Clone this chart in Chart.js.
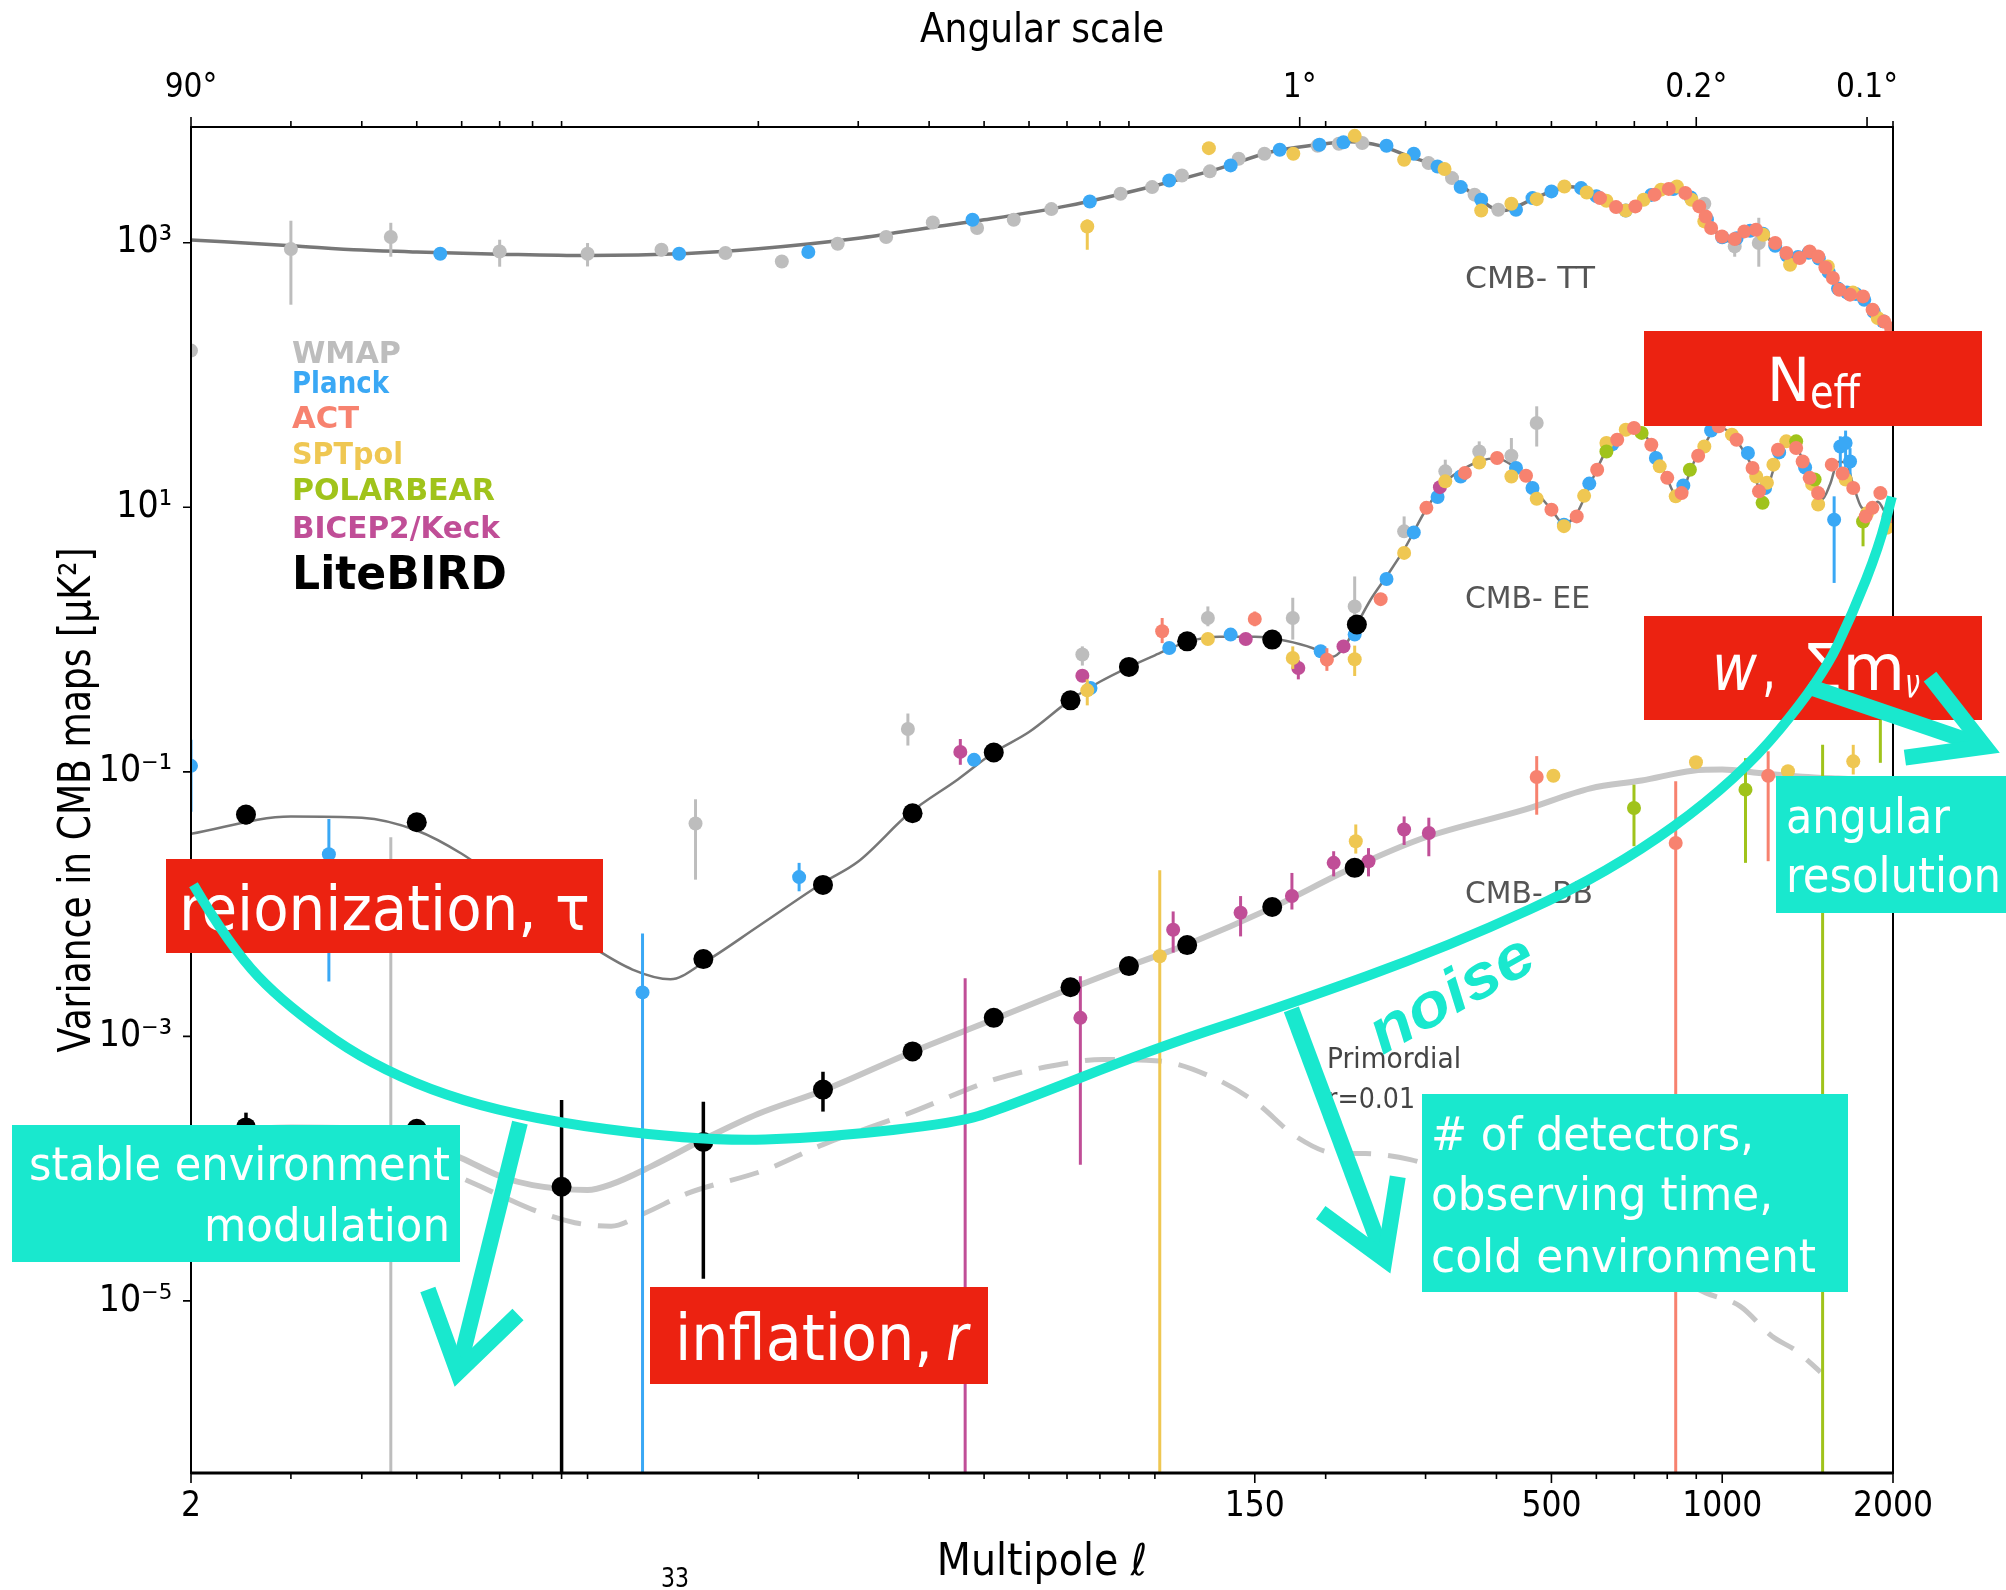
<!DOCTYPE html>
<html>
<head>
<meta charset="utf-8">
<script src="https://cdn.jsdelivr.net/npm/chart.js@4.4.1/dist/chart.umd.min.js"></script>
<style>
  html, body { margin: 0; padding: 0; background: #fff; }
  #wrap { width: 2006px; height: 1590px; }
</style>
</head>
<body>
<div id="wrap"><canvas id="cmb" width="2006" height="1590"></canvas></div>
<script>
const NARROW = '"Liberation Sans Narrow", "DejaVu Sans Condensed", "Arial Narrow", sans-serif';
const SANS = '"DejaVu Sans", "Liberation Sans", sans-serif';

// ---- axis ticks ----
const bottomTickVals = [2, 150, 500, 1000, 2000];
const topTickVals = [2, 180, 900, 1800];
const topTickLabels = ['90°', '1°', '0.2°', '0.1°'];
const yTickVals = [1e3, 1e1, 1e-1, 1e-3, 1e-5];
const yTickLabels = ['10³', '10¹', '10⁻¹', '10⁻³', '10⁻⁵'];

// ---- theory spectra (multipole l, D_l in uK^2) ----
const ttL = [2, 3, 4, 5, 7, 10, 15, 20, 30, 40, 50, 70, 100, 130, 160, 190, 220, 250, 280, 320, 360, 410, 460, 500, 540, 580, 630, 680, 740, 780, 820, 860, 920, 980, 1030, 1080, 1130, 1180, 1240, 1300, 1360, 1420, 1480, 1550, 1620, 1690, 1750, 1820, 1900, 2000];
const ttD = [1050, 950, 880, 850, 820, 800, 830, 900, 1080, 1300, 1490, 1900, 2700, 3650, 4850, 5450, 5800, 5400, 4500, 3650, 2400, 1750, 2100, 2450, 2650, 2450, 2000, 1750, 2100, 2450, 2600, 2400, 1800, 1180, 1030, 1100, 1250, 1150, 980, 820, 760, 850, 780, 560, 440, 410, 395, 330, 265, 215];

const eeL = [2, 3, 4, 5, 6, 7, 8, 10, 12, 14, 16, 20, 26, 30, 37, 45, 52, 60, 71, 80, 90, 100, 114, 130, 150, 170, 190, 205, 215, 227, 240, 256, 275, 300, 325, 350, 375, 400, 425, 450, 475, 500, 525, 550, 575, 600, 625, 650, 675, 700, 725, 750, 775, 800, 825, 850, 875, 900, 930, 960, 990, 1030, 1060, 1100, 1130, 1160, 1190, 1230, 1260, 1300, 1340, 1380, 1420, 1460, 1500, 1550, 1600, 1650, 1700, 1760, 1820, 1880, 1940, 2000];
const eeD = [0.034, 0.046, 0.045, 0.036, 0.024, 0.015, 0.0095, 0.005, 0.0032, 0.0027, 0.0036, 0.0068, 0.0145, 0.021, 0.049, 0.088, 0.14, 0.2, 0.35, 0.48, 0.62, 0.76, 0.96, 1.05, 1.05, 0.98, 0.86, 0.74, 0.86, 1.3, 2.0, 3.0, 4.8, 9.5, 15.5, 19.5, 22.5, 23.5, 21, 17, 12.5, 9.6, 7.6, 8.5, 12.5, 19, 27, 33, 38, 39.5, 36, 30, 22, 16.5, 12.8, 13, 18, 24, 29.5, 37, 40, 37, 32, 25, 20, 14, 13, 19, 26, 30, 29.5, 24, 17.5, 13, 11.5, 15, 22, 22, 15, 10, 9.5, 11, 9, 7.5];

const bbL = [2, 3, 4, 5, 6, 7, 8, 10, 11, 13, 16, 20, 26, 37, 51, 71, 90, 114, 161, 223, 300, 450, 586, 721, 887, 1000, 1161, 1386, 1600, 1800, 2000];
const bbD = [1.9e-4, 2.05e-4, 2.0e-4, 1.65e-4, 1.2e-4, 8.8e-5, 7.5e-5, 6.9e-5, 7.6e-5, 1.05e-4, 1.66e-4, 2.6e-4, 3.9e-4, 7.5e-4, 1.3e-3, 2.3e-3, 3.4e-3, 4.95e-3, 9.4e-3, 1.88e-2, 3.2e-2, 5.2e-2, 7.5e-2, 8.6e-2, 1.02e-1, 1.04e-1, 9.8e-2, 9.2e-2, 8.9e-2, 8.7e-2, 8.5e-2];

const primL = [2, 3, 4, 5, 6, 7, 8, 9.5, 11, 12.6, 15, 20.6, 26, 37, 52, 66, 81, 102, 129, 151, 177, 206, 235, 282, 350, 420, 500, 600, 700, 800, 935, 1076, 1224, 1350, 1490];
const primD = [1.7e-4, 1.8e-4, 1.6e-4, 1.2e-4, 8.5e-5, 6.3e-5, 4.9e-5, 3.9e-5, 3.67e-5, 4.6e-5, 6.5e-5, 9.8e-5, 1.52e-4, 2.64e-4, 4.7e-4, 6.0e-4, 6.68e-4, 6.5e-4, 4.7e-4, 3.14e-4, 1.76e-4, 1.32e-4, 1.3e-4, 1.17e-4, 8.5e-5, 6e-5, 4.2e-5, 2.9e-5, 2.1e-5, 1.6e-5, 1.15e-5, 9.1e-6, 5.4e-6, 4.2e-6, 2.9e-6];

// ---- measurements: [l, D, errLow, errHigh]  (D null = bar only, errLow 0 = down to zero) ----
const wmapTT = [[2, 153], [3, 897, 340, 1467], [4.5, 1104, 784, 1415], [7, 859, 659, 1054], [10, 826, 662, 995], [13.5, 885, 790, 990], [17.5, 836, 760, 920], [22, 722, 660, 790], [27.6, 983], [33.6, 1104], [40.6, 1424], [48.6, 1291], [56.4, 1492], [65.7, 1797], [87, 2347], [98.9, 2634], [111.6, 3227], [125, 3464], [140.5, 4312], [156, 4708], [193.6, 5410], [211, 5600], [232, 5670], [303.7, 4000], [334, 3080], [366, 2310], [403, 1776], [930, 1970], [1052, 938, 784, 1190], [1160, 995, 659, 1545]];
const wmapEE = [[4.5, null, 0, 0.032], [15.5, 0.0407, 0.0153, 0.062], [36.7, 0.211, 0.158, 0.276], [74.5, 0.77, 0.636, 0.888], [124, 1.455, 1.26, 1.78], [175, 1.455, 1.0, 2.07], [225, 1.78, 1.41, 3.0], [275, 6.58, 5.86, 8.53], [325, 18.7, 17.1, 22.9], [373, 26.4, 24, 31.5], [425, 24.5, 22.2, 33.4], [471, 43.4, 28.8, 58]];

const planckTT = [[5.5, 826], [14.5, 826], [24.5, 851], [47.7, 1492], [76.8, 2050], [106, 2958], [136, 3842], [166, 5045], [195, 5500], [215, 5750], [256, 5410], [286, 4708], [315, 3770], [346, 2634], [376, 2116], [433, 1776], [463, 2176], [500, 2444], [564, 2590], [600, 2250], [676, 1755], [750, 2300], [820, 2550], [880, 2200], [940, 1500], [1000, 1100], [1060, 1080], [1120, 1230], [1180, 1170], [1240, 950], [1300, 800], [1360, 780], [1420, 840], [1480, 760], [1540, 600], [1600, 450], [1660, 420], [1720, 410], [1780, 370], [1850, 300], [1920, 255], [1990, 215]];
const planckEE = [[2, 0.111, 0.05, 0.175], [3.5, 0.0238, 0.0026, 0.044], [12.5, 0.00215, 0, 0.006], [23.6, 0.016, 0.0125, 0.0205], [48, 0.1232], [77, 0.43], [106, 0.864], [136, 1.09], [196, 0.815], [225, 1.09], [256, 2.87], [286, 6.46], [315, 11.97], [346, 17.1], [433, 19.8], [463, 14.0], [526, 7.39], [583, 15.1], [640, 30], [764, 23.6], [854, 14.6], [956, 38.1], [1110, 25.7], [1190, 14], [1260, 26], [1400, 20], [1575, 8.05, 2.68, 12.1], [1615, 28.8, 19.2, 34.4], [1650, 30.6, 20, 38], [1680, 22.2, 16, 28]];

const actTT = [[609, 2176], [650, 1860], [703, 1882], [760, 2310], [805, 2553], [861, 2375], [911, 1882], [935, 1581], [956, 1291], [999, 1116], [1052, 1066], [1094, 1218], [1147, 1254], [1240, 995], [1297, 836], [1369, 766], [1426, 860], [1476, 788], [1520, 650], [1567, 541], [1609, 441], [1680, 405], [1771, 393], [1841, 312], [1929, 254], [1985, 225]];
const actEE = [[103, 1.157, 0.94, 1.455], [150, 1.43, 1.26, 1.63], [201, 0.705, 0.58, 0.86], [250, 2.02], [301, 9.9], [352, 18.2], [401, 23.6], [451, 17.3], [500, 9.6], [554, 8.53], [602, 19.2], [653, 32.4], [699, 39.8], [750, 29.7], [800, 16.7], [848, 12.8], [907, 24.5], [986, 40.9], [1060, 32.4], [1131, 19.8], [1161, 13.2], [1254, 27.2], [1350, 28.1], [1386, 22.2], [1426, 16.7], [1476, 12.8], [1560, 21], [1630, 18], [1702, 14], [1790, 8.53], [1840, 9.9], [1900, 12.8], [1964, 8.53]];
const actBB = [[471, 0.0914, 0.0474, 0.1315], [828, 0.029, 0, 0.0847], [1205, 0.0935, 0.0211, 0.143]];

const sptTT = [[76, 1328, 885, 1500], [124.5, 5190], [175.4, 4708], [225, 6430], [275, 4240], [324, 3610], [376, 1755], [425, 1970], [471, 2136], [527, 2665], [577, 2400], [625, 2077], [676, 1755], [727, 2116], [780, 2520], [832, 2665], [883, 2116], [930, 1450], [1181, 1150], [1317, 682], [1535, 662], [1700, 420], [1880, 270]];
const sptEE = [[76, 0.413, 0.318, 0.5], [124, 1.01], [175, 0.725, 0.6, 0.888], [225, 0.71, 0.53, 0.9], [275, 4.52], [325, 15.7], [373, 21.8], [425, 17.1], [471, 11.6], [526, 7.2], [571, 12.2], [625, 30.6], [676, 38.6], [776, 20.4], [828, 12.1], [930, 28.8], [1040, 35.4], [1148, 17.1], [1199, 15.3], [1231, 21], [1297, 31.5], [1440, 15], [1476, 10.5], [1650, 16.2], [1800, 9], [1950, 7]];
const sptBB = [[102, 0.00403, 0, 0.018], [226, 0.0299, 0.0241, 0.04], [504, 0.0935], [899, 0.118], [1306, 0.101], [1702, 0.12, 0.0955, 0.16]];

const pbEE = [[625, 26.4], [721, 36.5], [877, 19.2], [1178, 10.8], [1350, 31.5], [1455, 16.2], [1771, 7.8, 5.07, 9.5]];
const pbBB = [[699, 0.0533, 0.0274, 0.08], [1099, 0.0733, 0.0205, 0.127], [1503, null, 0, 0.16], [1900, 0.4, 0.117, 0.6]];

const bkEE = [[45.4, 0.1415, 0.113, 0.177], [74.5, 0.533], [144.6, 1.01], [179, 0.61, 0.5, 0.7], [215, 0.888], [318, 14.2]];
const bkBB = [[46.3, null, 0, 0.00275], [73.9, 0.00138, 0.000107, 0.00285], [107.7, 0.0064, 0.0043, 0.0088], [141.6, 0.0086, 0.0057, 0.0115], [174.4, 0.0115, 0.0091, 0.0172], [206.6, 0.0205, 0.0162, 0.0251], [238, 0.0211, 0.0162, 0.0265], [275, 0.0366, 0.028, 0.046], [304, 0.0345, 0.023, 0.045]];

const lbEE = [[2.5, 0.0475, 0.04, 0.056], [5, 0.0416], [16, 0.00384], [26, 0.01396], [37.4, 0.0486], [52, 0.14], [71, 0.347], [90, 0.621], [114, 0.969], [161, 1.0], [227, 1.30]];
const lbBB = [[2.5, 2.05e-4, 1.5e-4, 2.65e-4], [5, 2.0e-4, 1.5e-4, 2.35e-4], [9, 7.3e-5, 0, 3.3e-4], [16, 1.59e-4, 1.47e-5, 3.2e-4], [26, 3.96e-4, 2.7e-4, 5.4e-4], [37.4, 7.7e-4], [52, 1.38e-3], [71, 2.35e-3], [90, 3.4e-3], [114, 4.9e-3], [161, 9.5e-3], [225, 0.0188]];

// ---- "noise" annotation curve and arrows, in data coordinates ----
const noiseL = [2.02, 2.34, 2.95, 4.36, 7.3, 15.9, 26.6, 44.8, 53.3, 102, 168, 330, 634, 1067, 1493, 1701, 1889, 1991];
const noiseV = [0.014, 0.00478, 0.00168, 5.32e-4, 2.48e-4, 1.6e-4, 1.72e-4, 2.23e-4, 2.8e-4, 8.38e-4, 1.68e-3, 4.78e-3, 0.0173, 0.0873, 0.498, 1.6, 5.04, 12.0];
const arrowFrom = [[7.6, 2.23e-4], [174, 1.6e-3], [1439, 0.433]];
const arrowTip = [[5.91, 2.88e-6], [254, 2.06e-5], [2904, 0.155]];
const arrowWingA = [[5.23, 1.22e-5], [196, 4.66e-5], [2324, 0.524]];
const arrowWingB = [[7.54, 7.9e-6], [268, 8.7e-5], [2099, 0.128]];

const expLabels = ['WMAP', 'Planck', 'ACT', 'SPTpol', 'POLARBEAR', 'BICEP2/Keck', 'LiteBIRD'];
const expColors = ['#bdbdbd', '#3aa8f5', '#f7826f', '#efc752', '#a0c31b', '#c04e97', '#000000'];

const RED = '#ec2211';
const CYAN = '#19e8ce';

function rows(list) {
  return list.map(r => ({x: r[0], y: r[1], lo: r[2], hi: r[3]}));
}

function expSet(i, list, radius, order) {
  return {
    label: expLabels[i],
    data: rows(list),
    backgroundColor: expColors[i],
    borderColor: expColors[i],
    pointRadius: radius,
    pointBorderWidth: 0,
    pointHoverRadius: radius,
    showLine: false,
    errWidth: i === 6 ? 3.5 : 3,
    order: order
  };
}

function curve(L, D, color, width, dash, order) {
  return {
    data: L.map((l, i) => ({x: l, y: D[i]})),
    showLine: true,
    borderColor: color,
    borderWidth: width,
    borderDash: dash,
    pointRadius: 0,
    cubicInterpolationMode: 'monotone',
    fill: false,
    order: order
  };
}

function fitText(ctx, text, x, y, font, color, width, align) {
  ctx.save();
  ctx.font = font;
  ctx.fillStyle = color;
  ctx.textAlign = 'left';
  ctx.textBaseline = 'alphabetic';
  const w = ctx.measureText(text).width;
  const s = width ? width / w : 1;
  let x0 = x;
  if (align === 'right') x0 = x - w * s;
  else if (align === 'center') x0 = x - w * s / 2;
  ctx.translate(x0, y);
  ctx.scale(s, 1);
  ctx.fillText(text, 0, 0);
  ctx.restore();
}

const errorBars = {
  id: 'errorBars',
  beforeDatasetDraw(chart, args) {
    const ds = chart.data.datasets[args.index];
    if (!ds.errWidth) return;
    const {ctx, chartArea: a, scales} = chart;
    ctx.save();
    ctx.beginPath();
    ctx.rect(a.left, a.top, a.width, a.height);
    ctx.clip();
    ctx.strokeStyle = ds.borderColor;
    ctx.lineWidth = ds.errWidth;
    ds.data.forEach(p => {
      if (p.lo === undefined || p.lo === null) return;
      const x = scales.x.getPixelForValue(p.x);
      const y1 = p.lo > 0 ? scales.y.getPixelForValue(p.lo) : a.bottom;
      const y2 = scales.y.getPixelForValue(p.hi);
      ctx.beginPath();
      ctx.moveTo(x, y1);
      ctx.lineTo(x, y2);
      ctx.stroke();
    });
    ctx.restore();
  }
};

const overlay = {
  id: 'overlay',
  afterDraw(chart) {
    const {ctx, chartArea: a, scales} = chart;
    const X = v => scales.x.getPixelForValue(v);
    const Y = v => scales.y.getPixelForValue(v);
    ctx.save();

    // frame
    ctx.strokeStyle = '#000';
    ctx.lineWidth = 2;
    ctx.strokeRect(a.left, a.top, a.width, a.height);
    ctx.lineWidth = 3;
    ctx.beginPath();
    ctx.moveTo(a.left, a.bottom); ctx.lineTo(a.right, a.bottom);
    ctx.stroke();

    // tick marks
    ctx.lineWidth = 1.6;
    ctx.beginPath();
    for (let k = 0; k <= 3; k++) {
      for (let m = 1; m <= 9; m++) {
        const v = m * Math.pow(10, k);
        if (v < 2 || v > 2000) continue;
        const x = X(v);
        const major = bottomTickVals.includes(v);
        ctx.moveTo(x, a.bottom); ctx.lineTo(x, a.bottom + (major ? 10 : 6));
        if (m !== 1 && v !== 2) {
          ctx.moveTo(x, a.top); ctx.lineTo(x, a.top - 6);
        }
      }
    }
    topTickVals.forEach(v => { const x = X(v); ctx.moveTo(x, a.top); ctx.lineTo(x, a.top - 10); });
    bottomTickVals.forEach(v => { const x = X(v); ctx.moveTo(x, a.bottom); ctx.lineTo(x, a.bottom + 10); });
    yTickVals.forEach(v => { const y = Y(v); ctx.moveTo(a.left, y); ctx.lineTo(a.left - 8, y); });
    ctx.stroke();

    // y axis title (condensed, as on the slide)
    ctx.save();
    ctx.translate(90, (a.top + a.bottom) / 2);
    ctx.rotate(-Math.PI / 2);
    fitText(ctx, 'Variance in CMB maps [μK²]', 0, 0, '44px ' + SANS, '#000', 505, 'center');
    ctx.restore();

    // curve labels
    fitText(ctx, 'CMB- TT', 1465, 288, '30px ' + NARROW, '#555', 130);
    fitText(ctx, 'CMB- EE', 1465, 608, '30px ' + NARROW, '#555', 125);
    fitText(ctx, 'CMB- BB', 1465, 903, '30px ' + NARROW, '#555', 128);
    fitText(ctx, 'Primordial', 1327, 1068, '28px ' + NARROW, '#444', 134);
    fitText(ctx, 'r=0.01', 1327, 1108, '28px ' + NARROW, '#444', 88);

    // legend (coloured names)
    const legW = [109, 97, 67, 111, 203, 208, 215];
    const legY = [363, 393, 428, 464, 500, 538, 589];
    expLabels.forEach((t, i) => {
      const f = i === 6 ? 'bold 46px ' : 'bold 30px ';
      fitText(ctx, t, 292, legY[i], f + NARROW, expColors[i], legW[i]);
    });

    // red boxes
    ctx.fillStyle = RED;
    ctx.fillRect(1644, 331, 338, 95);
    ctx.fillRect(1644, 616, 338, 104);
    ctx.fillRect(166, 859, 437, 94);
    ctx.fillRect(650, 1287, 338, 97);
    fitText(ctx, 'N', 1767, 401, '60px ' + NARROW, '#fff', 43);
    fitText(ctx, 'eff', 1810, 408, '46px ' + NARROW, '#fff', 50);
    fitText(ctx, 'w', 1712, 690, 'italic 64px ' + NARROW, '#fff', 45);
    fitText(ctx, ',', 1762, 690, '64px ' + NARROW, '#fff', 14);
    fitText(ctx, 'Σm', 1802, 690, '64px ' + NARROW, '#fff', 103);
    fitText(ctx, 'ν', 1905, 697, 'italic 40px ' + NARROW, '#fff', 15);
    fitText(ctx, 'reionization, τ', 179, 930, '62px ' + NARROW, '#fff', 411);
    fitText(ctx, 'inflation,', 675, 1360, '64px ' + NARROW, '#fff', 258);
    fitText(ctx, 'r', 946, 1360, 'italic 64px ' + NARROW, '#fff', 22);

    // cyan boxes
    ctx.fillStyle = CYAN;
    ctx.fillRect(1776, 776, 230, 137);
    ctx.fillRect(12, 1125, 448, 137);
    ctx.fillRect(1422, 1094, 426, 198);
    fitText(ctx, 'angular', 1786, 833, '48px ' + NARROW, '#fff', 164);
    fitText(ctx, 'resolution', 1786, 892, '48px ' + NARROW, '#fff', 215);
    fitText(ctx, 'stable environment', 450, 1180, '46px ' + NARROW, '#fff', 421, 'right');
    fitText(ctx, 'modulation', 450, 1241, '46px ' + NARROW, '#fff', 246, 'right');
    fitText(ctx, '# of detectors,', 1431, 1150, '46px ' + NARROW, '#fff', 323);
    fitText(ctx, 'observing time,', 1431, 1210, '46px ' + NARROW, '#fff', 342);
    fitText(ctx, 'cold environment', 1431, 1272, '46px ' + NARROW, '#fff', 385);

    // noise curve
    const p = noiseL.map((l, i) => [X(l), Y(noiseV[i])]);
    ctx.strokeStyle = CYAN;
    ctx.lineWidth = 10;
    ctx.lineCap = 'butt';
    ctx.lineJoin = 'round';
    ctx.beginPath();
    ctx.moveTo(p[0][0], p[0][1]);
    for (let i = 1; i < p.length - 1; i++) {
      const mx = (p[i][0] + p[i + 1][0]) / 2, my = (p[i][1] + p[i + 1][1]) / 2;
      ctx.quadraticCurveTo(p[i][0], p[i][1], mx, my);
    }
    ctx.lineTo(p[p.length - 1][0], p[p.length - 1][1]);
    ctx.stroke();

    // arrows
    ctx.lineWidth = 16;
    ctx.lineJoin = 'miter';
    arrowFrom.forEach((f, i) => {
      const t = arrowTip[i], wa = arrowWingA[i], wb = arrowWingB[i];
      ctx.beginPath();
      ctx.moveTo(X(f[0]), Y(f[1]));
      ctx.lineTo(X(t[0]), Y(t[1]));
      ctx.stroke();
      ctx.beginPath();
      ctx.moveTo(X(wa[0]), Y(wa[1]));
      ctx.lineTo(X(t[0]), Y(t[1]));
      ctx.lineTo(X(wb[0]), Y(wb[1]));
      ctx.stroke();
    });

    // "noise"
    ctx.save();
    ctx.translate(1461, 1011);
    ctx.rotate(-29.4 * Math.PI / 180);
    fitText(ctx, 'noise', 0, 0, 'bold italic 62px "Liberation Sans", Arial, sans-serif', CYAN, 180, 'center');
    ctx.restore();

    // page number
    fitText(ctx, '33', 675, 1587, '26px ' + NARROW, '#000', 28, 'center');
    ctx.restore();
  }
};

const datasets = [
  expSet(6, lbEE.concat(lbBB), 10, 0),
  expSet(2, actTT.concat(actEE, actBB), 7, 1),
  expSet(4, pbEE.concat(pbBB), 7, 2),
  expSet(3, sptTT.concat(sptEE, sptBB), 7, 3),
  expSet(5, bkEE.concat(bkBB), 7, 4),
  expSet(1, planckTT.concat(planckEE), 7, 5),
  expSet(0, wmapTT.concat(wmapEE), 7, 6),
  curve(ttL, ttD, '#777777', 3.5, [], 7),
  curve(eeL, eeD, '#777777', 2.5, [], 8),
  curve(bbL, bbD, '#c6c6c6', 6, [], 9),
  curve(primL, primD, '#c6c6c6', 5, [30, 17], 10)
];

new Chart(document.getElementById('cmb').getContext('2d'), {
  type: 'scatter',
  data: { datasets: datasets },
  options: {
    responsive: false,
    animation: false,
    devicePixelRatio: 1,
    events: [],
    layout: { padding: { left: 0, right: 113, top: 0, bottom: 0 } },
    plugins: { legend: { display: false }, tooltip: { enabled: false } },
    scales: {
      x: {
        type: 'logarithmic', position: 'bottom', min: 2, max: 2000,
        afterBuildTicks: s => { s.ticks = bottomTickVals.map(v => ({value: v})); },
        afterFit: s => { s.height = 117; },
        ticks: { autoSkip: false, maxRotation: 0, minRotation: 0, padding: 13, color: '#000',
                 font: { family: NARROW, size: 35 }, callback: v => String(v) },
        grid: { display: false, drawTicks: false },
        border: { display: false },
        title: { display: true, text: 'Multipole ℓ', color: '#000', padding: { top: 0, bottom: 0 },
                 font: { family: NARROW, size: 44 } }
      },
      x2: {
        type: 'logarithmic', position: 'top', min: 2, max: 2000,
        afterBuildTicks: s => { s.ticks = topTickVals.map(v => ({value: v})); },
        afterFit: s => { s.height = 127; },
        ticks: { autoSkip: false, maxRotation: 0, minRotation: 0, padding: 19, color: '#000',
                 font: { family: NARROW, size: 33 }, callback: (v, i) => topTickLabels[i] },
        grid: { display: false, drawTicks: false },
        border: { display: false },
        title: { display: true, text: 'Angular scale', color: '#000', padding: { top: 8, bottom: 0 },
                 font: { family: NARROW, size: 40 } }
      },
      y: {
        type: 'logarithmic', position: 'left', min: 5e-7, max: 7.5e3,
        afterBuildTicks: s => { s.ticks = yTickVals.map(v => ({value: v})); },
        afterFit: s => { s.width = 191; },
        ticks: { autoSkip: false, padding: 19, color: '#000',
                 font: { family: NARROW, size: 37 }, callback: (v, i) => yTickLabels[i] },
        grid: { display: false, drawTicks: false },
        border: { display: false },
        title: { display: false }
      }
    }
  },
  plugins: [errorBars, overlay]
});
</script>
</body>
</html>
